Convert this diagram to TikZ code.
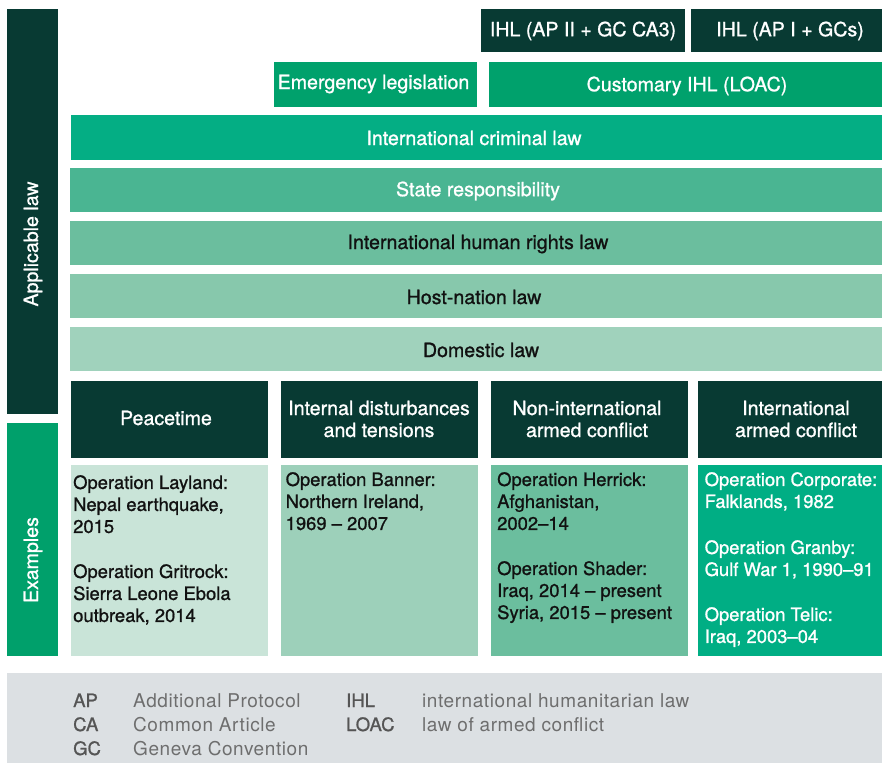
\documentclass[tikz,border=0pt]{standalone}
\usepackage{fontspec}
\setmainfont{TeX Gyre Heros}[FakeBold=1.0]
\newfontfamily\lightfont{TeX Gyre Heros}[LetterSpace=3]
\newfontfamily\abbrfont{TeX Gyre Heros}[FakeBold=1.0]
\definecolor{darkg}{HTML}{083A33}
\definecolor{exg}{HTML}{00A06B}
\definecolor{emg}{HTML}{00A16C}
\definecolor{iclc}{HTML}{04AE84}
\definecolor{stc}{HTML}{4AB592}
\definecolor{ihrlc}{HTML}{6BBE9E}
\definecolor{hostc}{HTML}{87C8AC}
\definecolor{domc}{HTML}{A0D2BC}
\definecolor{exa}{HTML}{C9E4D8}
\definecolor{exb}{HTML}{9DD0BA}
\definecolor{exc}{HTML}{6BBE9E}
\definecolor{exd}{HTML}{00AE84}
\definecolor{legbg}{HTML}{DCE0E3}
\definecolor{legtx}{HTML}{6E6E6E}
\definecolor{legab}{HTML}{555555}
\definecolor{inkc}{HTML}{111111}
\begin{document}
\begin{tikzpicture}[x=1pt,y=-1pt,
  txt/.style={inner sep=0pt,font=\fontsize{19.6}{22}\selectfont},
  exbody/.style={inner sep=0pt,font=\fontsize{18.4}{22}\selectfont,anchor=north west,align=left},
  legab/.style={inner sep=0pt,anchor=base west,text=legab,font=\abbrfont\fontsize{18.5}{24}\selectfont},
  legdef/.style={inner sep=0pt,anchor=base west,text=legtx,font=\lightfont\fontsize{19}{24}\selectfont}]
\useasboundingbox (0,0) rectangle (882,763);
% side bars
\fill[darkg] (7,9) rectangle (58,414);
\node[txt,text=white,rotate=90] (applic) at (33,244) {Applicable law};
\fill[exg] (7,423) rectangle (58,656);
\node[txt,text=white,rotate=90] (examples) at (33,560) {Examples};
% top row
\fill[darkg] (481,9) rectangle (685,52);
\node[txt,text=white] (ihltwo) at (583,31) {IHL (AP II + GC CA3)};
\fill[darkg] (691,9) rectangle (882,52);
\node[txt,text=white] (ihlone) at (790,31) {IHL (AP I + GCs)};
\fill[emg] (274,62) rectangle (477,107);
\node[txt,text=white] (emerg) at (373.5,84) {Emergency legislation};
\fill[emg] (489,62) rectangle (882,107);
\node[txt,text=white] (cust) at (687,86) {Customary IHL (LOAC)};
% law bars
\fill[iclc] (71,115) rectangle (882,160);
\node[txt,text=white] (icl) at (474,138) {International criminal law};
\fill[stc] (70,168) rectangle (882,212);
\node[txt,text=white] (state) at (478,191) {State responsibility};
\fill[ihrlc] (70,221) rectangle (882,265);
\node[txt,text=inkc] (ihrl) at (478,244) {International human rights law};
\fill[hostc] (70,274) rectangle (882,318);
\node[txt,text=inkc] (host) at (474,297) {Host-nation law};
\fill[domc] (70,327) rectangle (882,371);
\node[txt,text=inkc] (dom) at (481,350) {Domestic law};
% headers
\fill[darkg] (71,381) rectangle (268,458);
\node[txt,text=white] (hpeace) at (166,418) {Peacetime};
\fill[darkg] (281,381) rectangle (478,458);
\node[txt,text=white,align=center] (hids) at (379,419) {Internal disturbances\\and tensions};
\fill[darkg] (491,381) rectangle (688,458);
\node[txt,text=white,align=center] (hniac) at (587,419) {Non-international\\armed conflict};
\fill[darkg] (698,381) rectangle (882,458);
\node[txt,text=white,align=center] (hiac) at (796,419) {International\\armed conflict};
% examples
\fill[exa] (71,465) rectangle (268,656);
\node[exbody,text=inkc] (expeace) at (73,475) {Operation Layland:\\Nepal earthquake,\\2015\\[23pt]Operation Gritrock:\\Sierra Leone Ebola\\outbreak, 2014};
\fill[exb] (281,465) rectangle (478,656);
\node[exbody,text=inkc] (exids) at (285.5,472) {Operation Banner:\\Northern Ireland,\\1969 -- 2007};
\fill[exc] (491,465) rectangle (688,656);
\node[exbody,text=inkc] (exniac) at (497,472) {Operation Herrick:\\Afghanistan,\\2002--14\\[23pt]Operation Shader:\\Iraq, 2014 -- present\\Syria, 2015 -- present};
\fill[exd] (698,465) rectangle (882,656);
\node[exbody,text=white] (exiac) at (704.5,472) {Operation Corporate:\\Falklands, 1982\\[24pt]Operation Granby:\\Gulf War 1, 1990--91\\[23pt]Operation Telic:\\Iraq, 2003--04};
% legend
\fill[legbg] (7,673) rectangle (882,763);
\node[legab] (ap) at (73,707) {AP};
\node[legdef] (apd) at (133,707) {Additional Protocol};
\node[legab] (ca) at (73,731) {CA};
\node[legdef] (cad) at (133,731) {Common Article};
\node[legab] (gc) at (73,755) {GC};
\node[legdef] (gcd) at (133,755) {Geneva Convention};
\node[legab] (ihl) at (346,707) {IHL};
\node[legdef] (ihld) at (422,707) {international humanitarian law};
\node[legab] (loac) at (346,731) {LOAC};
\node[legdef] (loacd) at (422,731) {law of armed conflict};
\end{tikzpicture}
\end{document}
